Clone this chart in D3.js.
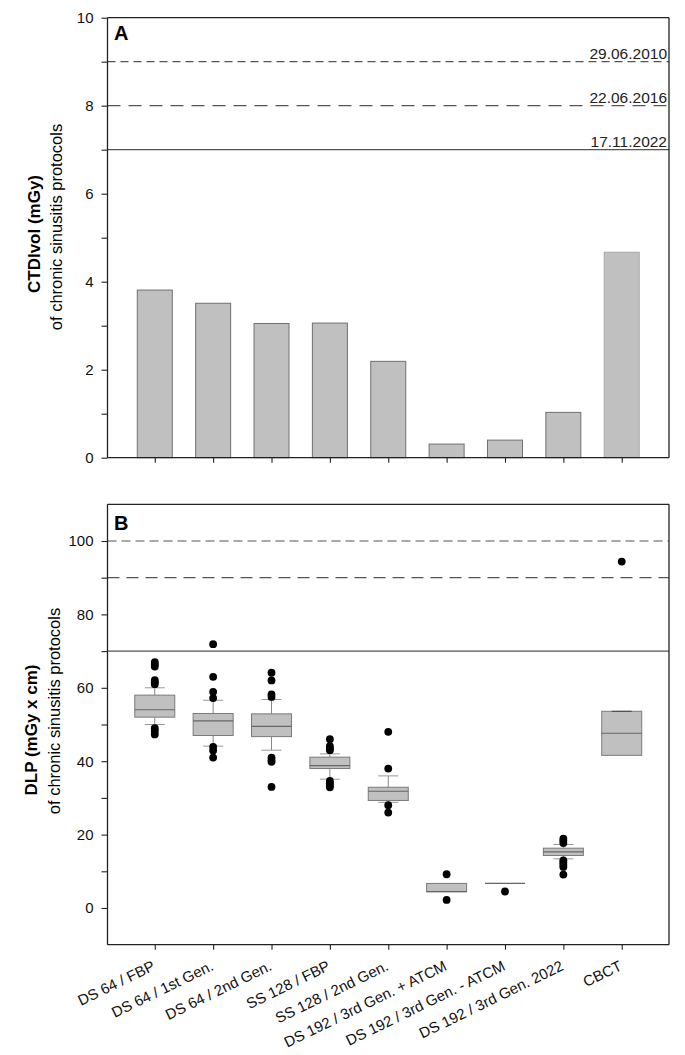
<!DOCTYPE html>
<html>
<head>
<meta charset="utf-8">
<script src="https://cdn.jsdelivr.net/npm/d3@7"></script>
<style>
  html, body { margin: 0; padding: 0; background: #fff; }
  svg { display: block; font-family: "Liberation Sans", Arial, sans-serif; }
</style>
</head>
<body>
<svg id="chart" width="685" height="1055"></svg>
<script>
// ---------- DATA ----------
const categories = [
  "DS 64 / FBP", "DS 64 / 1st Gen.", "DS 64 / 2nd Gen.", "SS 128 / FBP",
  "SS 128 / 2nd Gen.", "DS 192 / 3rd Gen. + ATCM", "DS 192 / 3rd Gen. - ATCM",
  "DS 192 / 3rd Gen. 2022", "CBCT"
];
// Panel A: CTDIvol (mGy)
const ctdiValues = [3.81, 3.51, 3.05, 3.06, 2.19, 0.31, 0.40, 1.03, 4.67];
const ctdiRefValues = [9, 8, 7];
const ctdiRefLabels = ["29.06.2010", "22.06.2016", "17.11.2022"];
const ctdiTicks = [0, 2, 4, 6, 8, 10];
const ctdiMinorTicks = [0, 1, 2, 3, 4, 5, 6, 7, 8, 9, 10];

// Panel B: DLP (mGy x cm) box plots
const boxQ1 = [52.0, 47.0, 46.7, 38.0, 29.3, 4.45, 6.7, 14.3, 41.6];
const boxMedian = [54.0, 51.0, 49.5, 38.8, 31.8, 4.45, 6.7, 15.3, 47.6];
const boxQ3 = [58.0, 53.0, 52.9, 41.1, 32.9, 6.7, 6.7, 16.3, 53.6];
const whiskerLow = [50.0, 44.1, 43.0, 35.1, 28.8, null, null, 13.4, null];
const whiskerHigh = [60.0, 56.6, 56.8, 42.0, 36.0, null, null, 17.3, 53.6];
const outliers = [
  [67.0, 66.4, 65.8, 62.1, 61.5, 61.0, 49.0, 48.2, 47.3],
  [71.9, 63.0, 58.9, 57.2, 43.9, 42.9, 41.0],
  [64.1, 62.0, 58.2, 57.5, 41.0, 40.3, 39.8, 33.0],
  [46.0, 44.1, 43.5, 43.0, 34.6, 34.0, 33.4, 32.9],
  [48.0, 38.0, 28.0, 26.0],
  [9.2, 2.2],
  [4.5],
  [18.9, 18.3, 17.7, 13.0, 12.4, 11.8, 11.2, 9.1],
  [94.4]
];
const dlpRefValues = [100, 90, 70];
const dlpTicks = [0, 20, 40, 60, 80, 100];
const dlpMinorTicks = [0, 10, 20, 30, 40, 50, 60, 70, 80, 90, 100];

// ---------- LAYOUT ----------
const svg = d3.select("#chart");
const left = 107.5, right = 669;
const axisColor = "#222";
const refColor = "#555";

const x = d3.scalePoint().domain(categories).range([left, right]).padding(0.81);

// ================= PANEL A =================
const yA = d3.scaleLinear().domain([0, 10]).range([457.7, 17.7]);
const gA = svg.append("g");

const dashA = ["8,5", "13,8", null];
gA.selectAll("line.ref").data(ctdiRefValues).join("line")
  .attr("x1", left).attr("x2", right)
  .attr("y1", d => yA(d)).attr("y2", d => yA(d))
  .attr("stroke", refColor).attr("stroke-width", 1.2)
  .attr("stroke-dasharray", (d, i) => dashA[i]);
gA.selectAll("text.ref").data(ctdiRefValues).join("text")
  .attr("x", right - 2).attr("y", d => yA(d) - 3)
  .attr("text-anchor", "end").attr("font-size", 15.5).attr("fill", "#222")
  .text((d, i) => ctdiRefLabels[i]);

const barW = 35;
gA.selectAll("rect.bar").data(ctdiValues).join("rect")
  .attr("x", (d, i) => x(categories[i]) - barW / 2)
  .attr("width", barW)
  .attr("y", d => yA(d))
  .attr("height", d => yA(0) - yA(d))
  .attr("fill", "#c0c0c0")
  .attr("stroke", (d, i) => i === 8 ? "#a8a8a8" : "#707070")
  .attr("stroke-width", 1);

gA.append("line").attr("x1", left).attr("x2", right).attr("y1", yA(10)).attr("y2", yA(10)).attr("stroke", axisColor).attr("stroke-width", 1.3);
gA.append("line").attr("x1", right).attr("x2", right).attr("y1", yA(10)).attr("y2", yA(0)).attr("stroke", axisColor).attr("stroke-width", 1.3);

const axAy = gA.append("g").attr("transform", `translate(${left},0)`)
  .call(d3.axisLeft(yA).tickValues(ctdiMinorTicks).tickSize(6).tickPadding(8)
    .tickFormat(d => ctdiTicks.includes(d) ? d : ""));
const axAx = gA.append("g").attr("transform", `translate(0,${yA(0)})`)
  .call(d3.axisBottom(x).tickSize(5).tickFormat(""));
[axAy, axAx].forEach(a => {
  a.select(".domain").attr("stroke", axisColor).attr("stroke-width", 1.3);
  a.selectAll(".tick line").attr("stroke", axisColor).attr("stroke-width", 1.1);
  a.selectAll(".tick text").attr("font-size", 15).attr("fill", "#111")
    .attr("font-family", "Liberation Sans, Arial, sans-serif");
});
axAx.select(".domain").attr("d", `M${left},0H${right}`);
axAy.select(".domain").attr("d", `M0,${yA(10)}V${yA(0)}`);

gA.append("text").attr("x", 114).attr("y", 40).attr("font-size", 20).attr("font-weight", "bold").text("A");

gA.append("text").attr("transform", "translate(40,234) rotate(-90)")
  .attr("text-anchor", "middle").attr("font-size", 17).attr("font-weight", "bold").text("CTDIvol (mGy)");
gA.append("text").attr("transform", "translate(62,227) rotate(-90)")
  .attr("text-anchor", "middle").attr("font-size", 16.5).text("of chronic sinusitis protocols");

// ================= PANEL B =================
const yB = d3.scaleLinear().domain([-10, 110]).range([944.7, 504.3]);
const gB = svg.append("g");

const dashB = ["9,5", "12,7", null];
gB.selectAll("line.ref").data(dlpRefValues).join("line")
  .attr("x1", left).attr("x2", right)
  .attr("y1", d => yB(d)).attr("y2", d => yB(d))
  .attr("stroke", refColor).attr("stroke-width", 1.2)
  .attr("stroke-dasharray", (d, i) => dashB[i]);

const boxW = 40, capW = 20;
const boxColor = "#7a7a7a";
categories.forEach((c, i) => {
  const cx = x(c);
  const g = gB.append("g");
  if (whiskerHigh[i] != null && whiskerHigh[i] > boxQ3[i]) {
    g.append("line").attr("x1", cx).attr("x2", cx).attr("y1", yB(boxQ3[i])).attr("y2", yB(whiskerHigh[i]))
      .attr("stroke", "#888").attr("stroke-width", 1);
  }
  if (whiskerLow[i] != null && whiskerLow[i] < boxQ1[i]) {
    g.append("line").attr("x1", cx).attr("x2", cx).attr("y1", yB(boxQ1[i])).attr("y2", yB(whiskerLow[i]))
      .attr("stroke", "#888").attr("stroke-width", 1);
  }
  if (boxQ3[i] > boxQ1[i]) {
    g.append("rect").attr("x", cx - boxW / 2).attr("width", boxW)
      .attr("y", yB(boxQ3[i])).attr("height", yB(boxQ1[i]) - yB(boxQ3[i]))
      .attr("fill", "#c0c0c0").attr("stroke", boxColor).attr("stroke-width", 1);
  }
  g.append("line").attr("x1", cx - boxW / 2).attr("x2", cx + boxW / 2)
    .attr("y1", yB(boxMedian[i])).attr("y2", yB(boxMedian[i]))
    .attr("stroke", "#666").attr("stroke-width", 1.1);
  [whiskerHigh[i], whiskerLow[i]].forEach(w => {
    if (w == null) return;
    const onBox = (w === boxQ3[i]);
    g.append("line").attr("x1", cx - capW / 2).attr("x2", cx + capW / 2)
      .attr("y1", yB(w)).attr("y2", yB(w))
      .attr("stroke", onBox ? "#444" : "#999").attr("stroke-width", 1);
  });
  g.selectAll("circle").data(outliers[i]).join("circle")
    .attr("cx", cx).attr("cy", d => yB(d)).attr("r", 3.9).attr("fill", "#000");
});

gB.append("line").attr("x1", left).attr("x2", right).attr("y1", yB(110)).attr("y2", yB(110)).attr("stroke", axisColor).attr("stroke-width", 1.3);
gB.append("line").attr("x1", right).attr("x2", right).attr("y1", yB(110)).attr("y2", yB(-10)).attr("stroke", axisColor).attr("stroke-width", 1.3);

const axBy = gB.append("g").attr("transform", `translate(${left},0)`)
  .call(d3.axisLeft(yB).tickValues(dlpMinorTicks).tickSize(6).tickPadding(8)
    .tickFormat(d => dlpTicks.includes(d) ? d : ""));
const axBx = gB.append("g").attr("transform", `translate(0,${yB(-10)})`)
  .call(d3.axisBottom(x).tickSize(5));
[axBy, axBx].forEach(a => {
  a.select(".domain").attr("stroke", axisColor).attr("stroke-width", 1.3);
  a.selectAll(".tick line").attr("stroke", axisColor).attr("stroke-width", 1.1);
  a.selectAll(".tick text").attr("font-size", 15).attr("fill", "#111")
    .attr("font-family", "Liberation Sans, Arial, sans-serif");
});
axBy.select(".domain").attr("d", `M0,${yB(110)}V${yB(-10)}`);
axBx.select(".domain").attr("d", `M${left},0H${right}`);
axBx.selectAll(".tick text")
  .attr("text-anchor", "end")
  .attr("font-size", 15)
  .attr("x", 0).attr("y", 0).attr("dy", "0.72em")
  .attr("transform", "translate(-4,15) rotate(-26)");

gB.append("text").attr("x", 114).attr("y", 530).attr("font-size", 20).attr("font-weight", "bold").text("B");

gB.append("text").attr("transform", "translate(37,730) rotate(-90)")
  .attr("text-anchor", "middle").attr("font-size", 17).attr("font-weight", "bold").text("DLP (mGy x cm)");
gB.append("text").attr("transform", "translate(60,711) rotate(-90)")
  .attr("text-anchor", "middle").attr("font-size", 16.5).text("of chronic sinusitis protocols");
</script>
</body>
</html>
